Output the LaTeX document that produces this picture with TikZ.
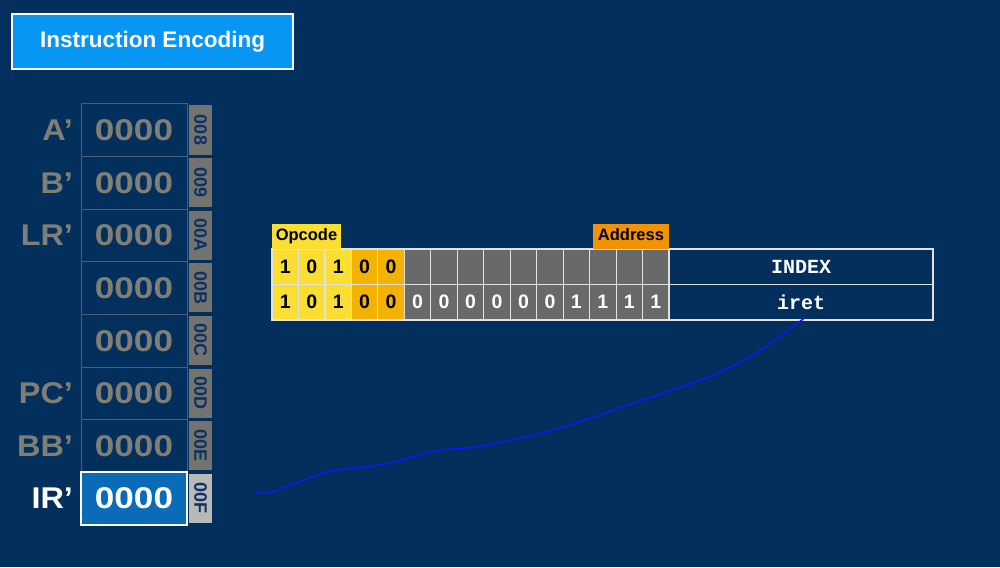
\documentclass[tikz,border=0pt]{standalone}
\usepackage{fontspec}
\setmainfont{Liberation Sans}
\newfontfamily\codefont{Liberation Mono}
\definecolor{bgnavy}{RGB}{3,47,93}
\definecolor{titleblue}{RGB}{8,150,245}
\definecolor{irblue}{RGB}{10,108,185}
\definecolor{regline}{RGB}{75,95,120}
\definecolor{regtext}{RGB}{128,127,118}
\definecolor{tagfill}{RGB}{115,115,112}
\definecolor{tagfillhi}{RGB}{185,185,185}
\definecolor{tagtext}{RGB}{12,50,100}
\definecolor{opyellow}{RGB}{250,222,50}
\definecolor{opgold}{RGB}{243,178,0}
\definecolor{addrorange}{RGB}{243,146,0}
\definecolor{bitgray}{RGB}{105,105,105}
\definecolor{cellline}{RGB}{225,225,225}
\definecolor{penblue}{RGB}{20,20,250}
\newcommand{\regnum}{\scalebox{1.17}[1]{0000}}
\begin{document}
\begin{tikzpicture}[x=1pt,y=-1pt,
  every node/.style={inner sep=0pt,outer sep=0pt},
  titlebox/.style={draw=white,line width=2.5pt,fill=titleblue,text=white,
    font=\fontsize{22.5}{27}\selectfont\bfseries,minimum width=281pt,minimum height=55pt,anchor=north west},
  regbox/.style={draw=regline,line width=1pt,fill=bgnavy,text=regtext,
    font=\fontsize{30}{36}\selectfont\bfseries,minimum width=106pt,minimum height=52.6pt,anchor=north west},
  irbox/.style={regbox,draw=white,line width=1.6pt,fill=irblue,text=white},
  reglab/.style={text=regtext,font=\fontsize{30}{36}\selectfont\bfseries,anchor=east},
  irlab/.style={reglab,text=white},
  tagbox/.style={fill=tagfill,text=tagtext,font=\fontsize{18}{20}\selectfont\bfseries,
    minimum width=23pt,minimum height=49pt,anchor=north west},
  tagboxhi/.style={tagbox,fill=tagfillhi},
  bitcell/.style={draw=cellline,line width=1.2pt,minimum width=26.47pt,minimum height=35.5pt,
    anchor=north west,font=\fontsize{19.5}{20}\selectfont\bfseries},
  opbit/.style={bitcell,fill=opyellow,text=black},
  opbitdark/.style={bitcell,fill=opgold,text=black},
  addrbit/.style={bitcell,fill=bitgray,text=white},
  fieldcell/.style={draw=cellline,line width=1.5pt,fill=bgnavy,text=white,minimum width=264pt,
    minimum height=35.5pt,anchor=north west,font=\fontsize{20}{22}\selectfont\codefont\bfseries},
  fieldtag/.style={anchor=north west,minimum height=25pt,text=black,text height=12pt,text depth=3.5pt,
    font=\fontsize{16.5}{18}\selectfont\bfseries},
  pen/.style={draw=penblue,line width=1.5pt,line cap=round,line join=round}
]
\fill[bgnavy] (0,0) rectangle (1000,567);
\useasboundingbox (0,0) rectangle (1000,567);

% title
\node[titlebox] (title) at (12,14) {Instruction Encoding};

% register file
\foreach \i/\tg in {0/008,1/009,2/00A,3/00B,4/00C,5/00D,6/00E} {
  \node[regbox] (r\i) at (81,{104+52.6*\i}) {\regnum};
  \node[tagbox] (t\i) at (189,{105.5+52.6*\i}) {\rotatebox{-90}{\tg}};
}
\node[irbox] (r7) at (81,{104+52.6*7}) {\regnum};
\node[tagboxhi] (t7) at (189,{105.5+52.6*7}) {\rotatebox{-90}{00F}};

\node[reglab] (l0) at ([xshift=-8pt]r0.west) {\scalebox{1.08}[1]{A’}};
\node[reglab] (l1) at ([xshift=-8pt]r1.west) {\scalebox{1.08}[1]{B’}};
\node[reglab] (l2) at ([xshift=-8pt]r2.west) {\scalebox{1.08}[1]{LR’}};
\node[reglab] (l5) at ([xshift=-8pt]r5.west) {\scalebox{1.08}[1]{PC’}};
\node[reglab] (l6) at ([xshift=-8pt]r6.west) {\scalebox{1.08}[1]{BB’}};
\node[irlab] (l7) at ([xshift=-8pt]r7.west) {\scalebox{1.08}[1]{IR’}};

% encoding table, row 1
\foreach \j/\s/\b in {0/opbit/1,1/opbit/0,2/opbit/1,3/opbitdark/0,4/opbitdark/0} {
  \node[\s] (a\j) at ({272+26.47*\j},249) {\b};
}
\foreach \j in {5,...,14} {
  \node[addrbit] (a\j) at ({272+26.47*\j},249) {};
}
% row 2
\foreach \j/\s/\b in {0/opbit/1,1/opbit/0,2/opbit/1,3/opbitdark/0,4/opbitdark/0,
  5/addrbit/0,6/addrbit/0,7/addrbit/0,8/addrbit/0,9/addrbit/0,10/addrbit/0,
  11/addrbit/1,12/addrbit/1,13/addrbit/1,14/addrbit/1} {
  \node[\s] (b\j) at ({272+26.47*\j},284.5) {\b};
}
\node[fieldcell] (f0) at (669,249) {INDEX};
\node[fieldcell] (f1) at (669,284.5) {iret};

% field tags
\node[fieldtag,fill=opyellow,minimum width=69pt] (opc) at (272,224) {Opcode};
\node[fieldtag,fill=addrorange,minimum width=76pt] (adr) at (593,224) {Address};

% hand-drawn pen stroke
\coordinate (penstart) at (255,492.7);
\coordinate (penend) at ([xshift=3pt,yshift=1.7pt]f1.south);
\draw[pen] plot[smooth,tension=0.55] coordinates {(penstart) (269.6,492.7) (295.5,483.3) (327,471.7)
  (340,470) (388,463.3) (436,450.7) (476.8,446.7) (547,431.7) (628.5,405) (713.5,375)
  (758,351.7) (penend)};
\end{tikzpicture}
\end{document}
